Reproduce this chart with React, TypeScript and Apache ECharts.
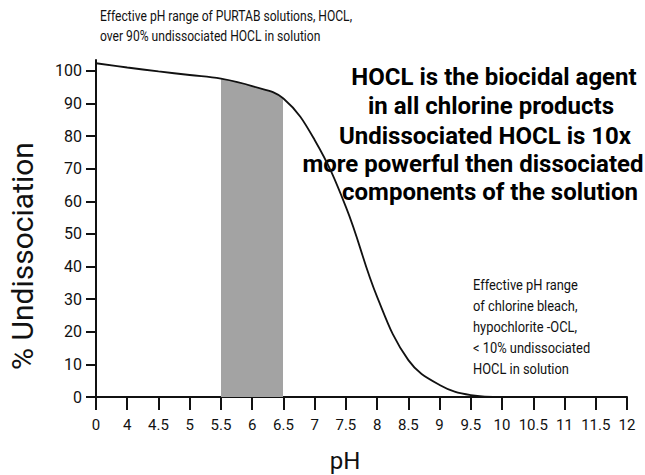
import React, { useEffect, useRef } from 'react';
import * as echarts from 'echarts';

// ---- data ----
const PH_LABELS = ['0', '4', '4.5', '5', '5.5', '6', '6.5', '7', '7.5', '8', '8.5', '9', '9.5', '10', '10.5', '11', '11.5', '12'];
const UNDISSOCIATION = [102.3, 101.0, 99.8, 98.7, 97.6, 95.3, 91.5, 78.8, 58.3, 30.7, 11.3, 3.7, 0.6, 0, null, null, null, null];
const Y_TICKS = [0, 10, 20, 30, 40, 50, 60, 70, 80, 90, 100];
const Y_MAX = 103.3;
const BAND_START_INDEX = 4; // pH 5.5
const BAND_END_INDEX = 6; // pH 6.5
const TOP_NOTE = ['Effective pH range of PURTAB solutions, HOCL,', 'over 90% undissociated HOCL in solution'];
const MAIN_NOTE = [
  'HOCL is the biocidal agent',
  'in all chlorine products',
  'Undissociated HOCL is 10x',
  'more powerful then dissociated',
  'components of the solution',
];
const BLEACH_NOTE = ['Effective pH range', 'of chlorine bleach,', 'hypochlorite -OCL,', '< 10% undissociated', 'HOCL in solution'];
const X_NAME = 'pH';
const Y_NAME = '% Undissociation';

// ---- layout ----
const FONT = "Roboto, 'Liberation Sans', sans-serif";
const INK = '#111';
const MAIN_NOTE_POS = [
  [494, 77],
  [491, 106],
  [485, 136],
  [473, 164],
  [490, 192],
];

export default function App() {
  const ref = useRef<HTMLDivElement>(null);
  useEffect(() => {
    if (!ref.current) return;
    const chart = echarts.init(ref.current, undefined, { renderer: 'svg' });
    const axisLineStyle = { color: INK, width: 2 };
    chart.setOption({
      animation: false,
      backgroundColor: '#fff',
      grid: { left: 96, right: 18, top: 60, bottom: 78 },
      xAxis: {
        type: 'category',
        data: PH_LABELS,
        boundaryGap: false,
        axisLine: { lineStyle: axisLineStyle },
        axisTick: { show: true, interval: 0, length: 13, lineStyle: axisLineStyle },
        axisLabel: { interval: 0, color: INK, fontFamily: FONT, fontSize: 15, margin: 20 },
        splitLine: { show: false },
      },
      yAxis: {
        type: 'value',
        min: 0,
        max: Y_MAX,
        axisLine: { show: true, lineStyle: axisLineStyle },
        axisTick: { show: true, length: 10, customValues: Y_TICKS, lineStyle: axisLineStyle },
        axisLabel: { customValues: Y_TICKS, color: INK, fontFamily: FONT, fontSize: 16, margin: 14 },
        splitLine: { show: false },
      },
      visualMap: {
        show: false,
        type: 'piecewise',
        seriesIndex: 1,
        dimension: 0,
        pieces: [{ gte: BAND_START_INDEX, lte: BAND_END_INDEX, color: '#a3a3a3' }],
        outOfRange: { color: 'rgba(255,255,255,0)' },
      },
      series: [
        {
          type: 'line',
          data: UNDISSOCIATION,
          smooth: 0.4,
          symbol: 'none',
          lineStyle: { color: INK, width: 1.8 },
          z: 3,
        },
        {
          type: 'line',
          data: UNDISSOCIATION,
          smooth: 0.4,
          symbol: 'none',
          silent: true,
          lineStyle: { width: 0, opacity: 0 },
          areaStyle: { opacity: 1 },
          z: 2,
        },
      ],
      graphic: [
        {
          type: 'text',
          x: 100,
          y: 6,
          scaleX: 0.865,
          style: { text: TOP_NOTE.join('\n'), fontFamily: FONT, fontSize: 14, lineHeight: 20, fill: INK },
        },
        ...MAIN_NOTE.map((t, i) => ({
          type: 'text',
          x: MAIN_NOTE_POS[i][0],
          y: MAIN_NOTE_POS[i][1],
          style: {
            text: t,
            fontFamily: FONT,
            fontSize: 24,
            fontWeight: 'bold',
            fill: '#000',
            align: 'center',
            verticalAlign: 'middle',
          },
        })),
        {
          type: 'text',
          x: 473,
          y: 275,
          scaleX: 0.92,
          style: { text: BLEACH_NOTE.join('\n'), fontFamily: FONT, fontSize: 14, lineHeight: 21, fill: INK },
        },
        {
          type: 'text',
          x: 22,
          y: 256,
          rotation: Math.PI / 2,
          style: { text: Y_NAME, fontFamily: FONT, fontSize: 30, fill: INK, align: 'center', verticalAlign: 'middle' },
        },
        {
          type: 'text',
          x: 345,
          y: 461,
          style: { text: X_NAME, fontFamily: FONT, fontSize: 24, fill: INK, align: 'center', verticalAlign: 'middle' },
        },
      ],
    });
    return () => chart.dispose();
  }, []);
  return <div ref={ref} style={{ position: 'fixed', left: 0, top: 0, width: 645, height: 475 }} />;
}
